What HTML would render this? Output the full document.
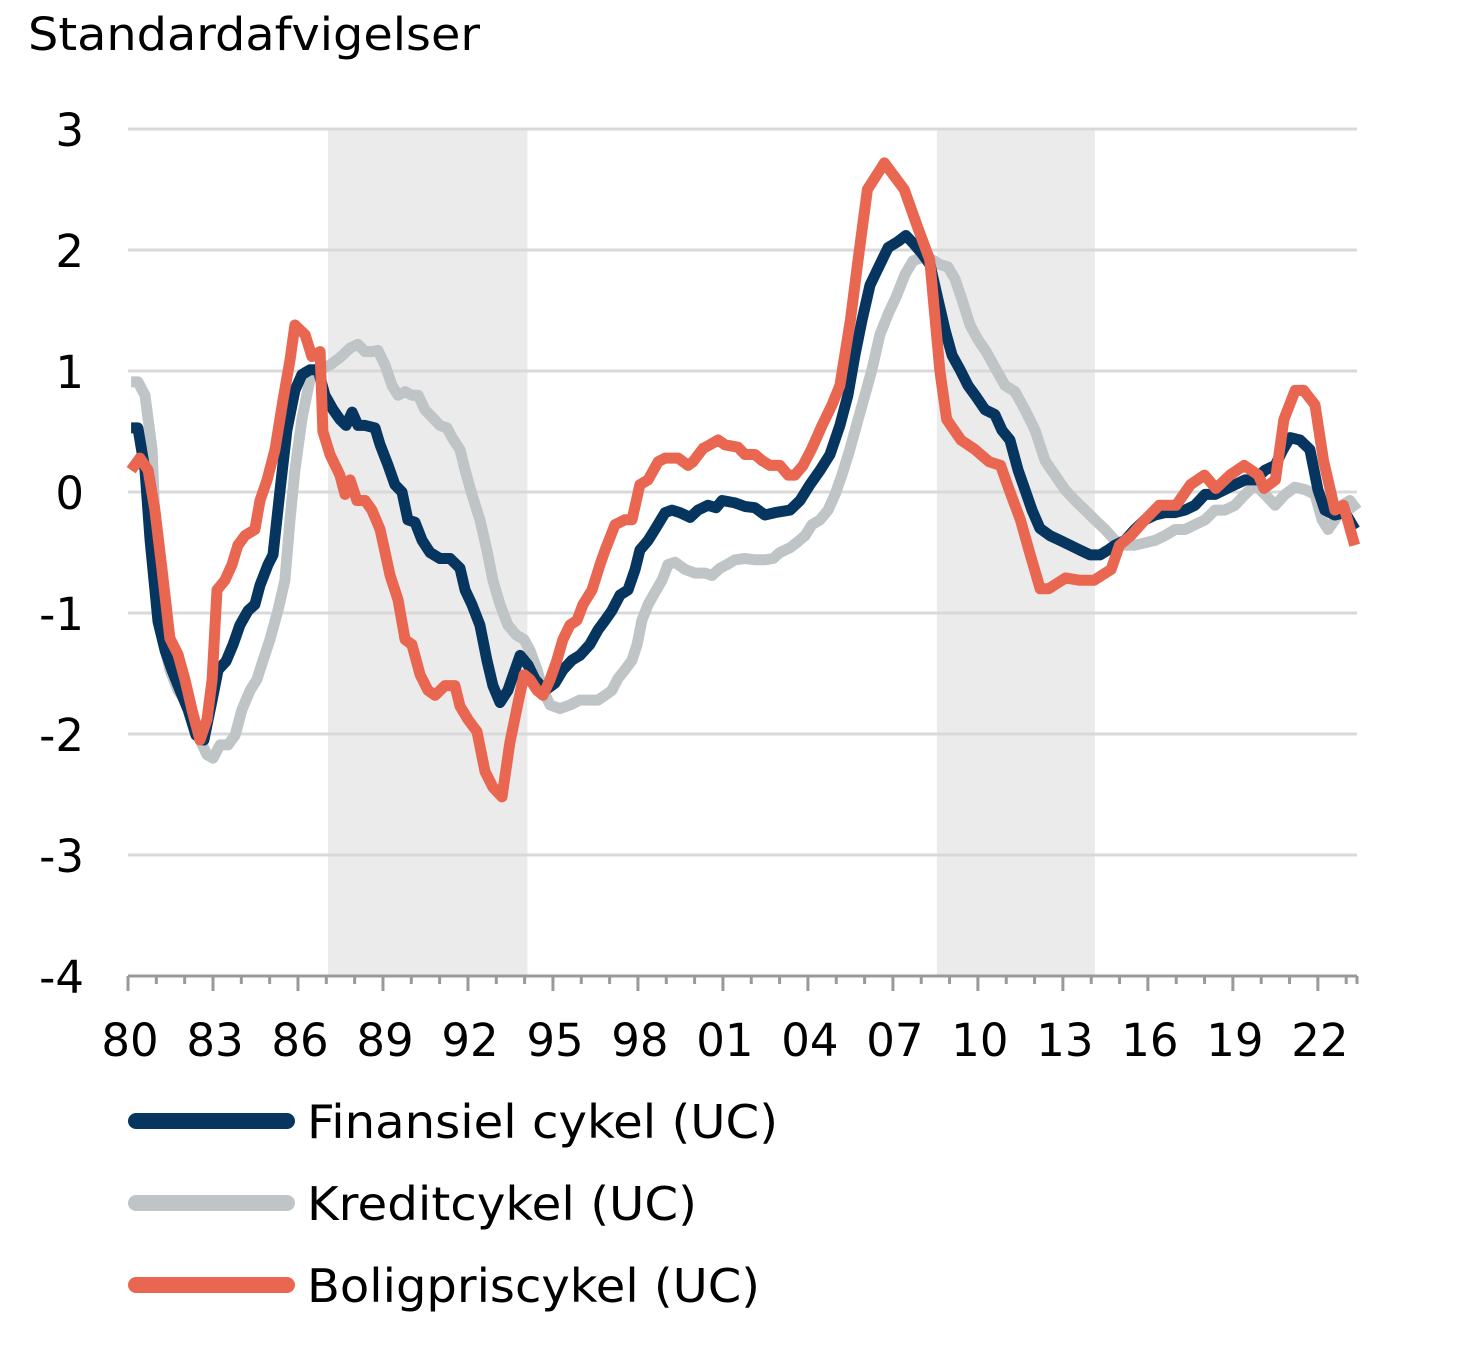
<!DOCTYPE html>
<html><head><meta charset="utf-8"><style>
html,body{margin:0;padding:0;background:#fff;}
svg{display:block;font-family:"DejaVu Sans","Liberation Sans",sans-serif;}
</style></head><body>
<svg id="chart" width="1477" height="1356" viewBox="0 0 1477 1356" xmlns="http://www.w3.org/2000/svg">
<text x="28" y="50" font-size="45" fill="#000" textLength="452" lengthAdjust="spacingAndGlyphs">Standardafvigelser</text>
<g id="shade"></g>
<g id="grid"></g>
<g id="xaxis"></g>
<g id="series"></g>
<g>
<g>
<line x1="136" y1="1121" x2="287" y2="1121" stroke="#06365f" stroke-width="16" stroke-linecap="round"/>
<text x="307" y="1138" font-size="46" fill="#000" textLength="471" lengthAdjust="spacingAndGlyphs">Finansiel cykel (UC)</text></g>
<g>
<line x1="136" y1="1203" x2="287" y2="1203" stroke="#bfc5c7" stroke-width="16" stroke-linecap="round"/>
<text x="307" y="1220" font-size="46" fill="#000" textLength="390" lengthAdjust="spacingAndGlyphs">Kreditcykel (UC)</text></g>
<g>
<line x1="136" y1="1285" x2="287" y2="1285" stroke="#e96651" stroke-width="16" stroke-linecap="round"/>
<text x="307" y="1302" font-size="46" fill="#000" textLength="453" lengthAdjust="spacingAndGlyphs">Boligpriscykel (UC)</text></g>
</g>
</svg>
<script>
// years since 1980
const yTicks=[3,2,1,0,-1,-2,-3,-4];
const xTickLabels=["80","83","86","89","92","95","98","01","04","07","10","13","16","19","22"];
const shadeStart=[7.06,28.55];
const shadeEnd=[14.1,34.13];
const finT=[0.11,0.35,0.60,0.78,1.06,1.31,1.55,1.84,2.12,2.40,2.68,2.97,3.18,3.46,3.71,3.95,4.24,4.48,4.66,4.94,5.12,5.37,5.61,5.89,6.14,6.42,6.71,6.95,7.24,7.48,7.70,7.91,8.12,8.37,8.72,8.90,9.18,9.42,9.67,9.88,10.13,10.38,10.66,11.01,11.37,11.72,11.90,12.14,12.42,12.67,12.88,13.13,13.41,13.66,13.84,14.12,14.37,14.72,15.07,15.35,15.67,15.95,16.30,16.59,16.84,17.08,17.37,17.65,17.90,18.07,18.36,18.60,18.96,19.20,19.48,19.84,20.12,20.47,20.76,20.97,21.43,21.78,22.13,22.48,22.84,23.37,23.72,24.07,24.43,24.78,25.13,25.41,25.66,25.91,26.19,26.54,26.83,27.18,27.46,27.74,28.03,28.31,28.59,28.84,29.09,29.37,29.65,29.90,30.25,30.60,30.85,31.13,31.42,31.66,31.91,32.19,32.54,32.90,33.25,33.60,33.96,34.31,34.59,34.84,35.19,35.54,35.90,36.25,36.60,36.96,37.31,37.66,38.02,38.37,38.72,39.07,39.43,39.78,40.13,40.49,40.77,41.02,41.37,41.72,42.00,42.25,42.60,42.96,43.31];
const finV=[0.53,0.53,0.18,-0.40,-1.07,-1.31,-1.47,-1.64,-1.80,-2.01,-2.05,-1.72,-1.47,-1.40,-1.26,-1.10,-0.98,-0.93,-0.77,-0.60,-0.52,0.02,0.51,0.84,0.97,1.01,1.01,0.80,0.68,0.60,0.55,0.66,0.55,0.55,0.53,0.39,0.22,0.06,0.00,-0.23,-0.25,-0.40,-0.50,-0.55,-0.55,-0.63,-0.81,-0.93,-1.10,-1.39,-1.60,-1.74,-1.64,-1.47,-1.35,-1.43,-1.55,-1.64,-1.58,-1.47,-1.39,-1.35,-1.26,-1.14,-1.06,-0.98,-0.85,-0.81,-0.64,-0.48,-0.40,-0.31,-0.17,-0.15,-0.17,-0.21,-0.15,-0.11,-0.13,-0.07,-0.09,-0.12,-0.13,-0.19,-0.17,-0.15,-0.07,0.06,0.18,0.31,0.55,0.80,1.13,1.42,1.71,1.88,2.02,2.07,2.12,2.05,1.97,1.88,1.59,1.34,1.13,1.01,0.88,0.80,0.68,0.64,0.51,0.43,0.18,0.02,-0.15,-0.30,-0.36,-0.40,-0.44,-0.48,-0.52,-0.52,-0.48,-0.44,-0.40,-0.31,-0.23,-0.19,-0.17,-0.17,-0.15,-0.11,-0.02,-0.02,0.02,0.06,0.10,0.10,0.18,0.22,0.35,0.45,0.43,0.35,0.02,-0.15,-0.19,-0.17,-0.31];
const kreT=[0.11,0.35,0.60,0.85,1.02,1.24,1.48,1.76,2.01,2.26,2.54,2.79,3.00,3.25,3.53,3.78,4.02,4.31,4.55,4.77,5.01,5.29,5.54,5.72,5.89,6.14,6.42,6.78,7.13,7.48,7.84,8.12,8.37,8.61,8.82,9.07,9.32,9.53,9.78,10.02,10.24,10.48,10.77,11.01,11.26,11.44,11.72,11.90,12.14,12.42,12.67,12.88,13.13,13.41,13.70,13.98,14.19,14.44,14.65,14.90,15.25,15.60,15.95,16.31,16.59,16.84,17.08,17.30,17.54,17.79,17.97,18.14,18.36,18.60,18.85,19.06,19.31,19.66,20.01,20.37,20.61,20.90,21.14,21.43,21.78,22.13,22.48,22.77,23.01,23.37,23.65,23.90,24.14,24.43,24.71,24.96,25.20,25.48,25.77,26.01,26.26,26.54,26.83,27.11,27.43,27.71,28.03,28.31,28.66,28.94,29.19,29.44,29.72,30.00,30.29,30.60,30.96,31.31,31.66,32.02,32.37,32.72,33.07,33.43,33.78,34.13,34.49,34.84,35.19,35.54,35.90,36.25,36.60,36.96,37.31,37.66,38.02,38.37,38.72,39.07,39.43,39.78,40.13,40.49,40.84,41.19,41.55,41.90,42.15,42.36,42.60,42.85,43.13,43.38];
const kreV=[0.91,0.91,0.80,0.35,-0.64,-1.22,-1.47,-1.64,-1.72,-1.84,-2.05,-2.17,-2.20,-2.09,-2.09,-2.01,-1.80,-1.64,-1.55,-1.39,-1.22,-0.98,-0.73,-0.23,0.18,0.60,0.93,1.01,1.05,1.11,1.19,1.22,1.16,1.16,1.17,1.05,0.88,0.80,0.83,0.80,0.80,0.68,0.61,0.55,0.53,0.45,0.35,0.18,-0.02,-0.23,-0.48,-0.73,-0.93,-1.10,-1.18,-1.22,-1.31,-1.47,-1.64,-1.76,-1.79,-1.76,-1.72,-1.72,-1.72,-1.68,-1.64,-1.54,-1.47,-1.39,-1.26,-1.06,-0.93,-0.83,-0.73,-0.60,-0.58,-0.64,-0.67,-0.67,-0.69,-0.63,-0.60,-0.56,-0.55,-0.56,-0.56,-0.55,-0.50,-0.46,-0.41,-0.36,-0.27,-0.23,-0.15,-0.02,0.14,0.35,0.60,0.80,1.01,1.30,1.47,1.61,1.80,1.91,1.94,1.93,1.88,1.86,1.76,1.59,1.38,1.26,1.16,1.03,0.88,0.83,0.68,0.51,0.26,0.14,0.02,-0.07,-0.15,-0.23,-0.31,-0.40,-0.44,-0.44,-0.42,-0.40,-0.36,-0.31,-0.31,-0.27,-0.23,-0.15,-0.15,-0.11,-0.02,0.06,-0.02,-0.11,-0.02,0.04,0.02,-0.02,-0.23,-0.31,-0.23,-0.11,-0.07,-0.15];
const bolT=[0.11,0.42,0.71,0.95,1.20,1.48,1.76,2.01,2.26,2.54,2.79,2.97,3.14,3.42,3.67,3.88,4.13,4.48,4.66,4.91,5.19,5.47,5.72,5.89,6.25,6.49,6.78,6.88,7.13,7.48,7.66,7.84,8.08,8.37,8.61,8.90,9.25,9.53,9.78,10.02,10.31,10.59,10.84,11.19,11.54,11.72,12.00,12.32,12.60,12.88,13.20,13.48,13.77,13.98,14.19,14.44,14.65,14.90,15.14,15.35,15.60,15.85,16.06,16.38,16.66,16.84,17.19,17.54,17.79,18.07,18.36,18.71,18.96,19.42,19.77,19.94,20.30,20.54,20.83,21.07,21.53,21.78,22.13,22.38,22.66,23.01,23.30,23.54,23.83,24.14,24.50,24.85,25.13,25.50,25.77,26.10,26.70,27.40,27.90,28.30,28.66,28.90,29.40,29.90,30.40,30.80,31.10,31.50,31.80,32.20,32.50,33.10,33.60,34.10,34.70,35.00,35.40,35.90,36.40,37.00,37.50,38.00,38.40,38.90,39.40,39.90,40.10,40.50,40.80,41.20,41.50,41.90,42.20,42.60,42.90,43.30];
const bolV=[0.18,0.28,0.18,-0.15,-0.64,-1.21,-1.34,-1.55,-1.80,-2.05,-1.88,-1.55,-0.81,-0.73,-0.60,-0.44,-0.36,-0.31,-0.07,0.10,0.35,0.76,1.09,1.38,1.30,1.12,1.16,0.50,0.31,0.14,-0.02,0.10,-0.07,-0.07,-0.15,-0.31,-0.69,-0.89,-1.22,-1.26,-1.51,-1.64,-1.68,-1.60,-1.60,-1.77,-1.88,-1.98,-2.31,-2.44,-2.52,-2.07,-1.74,-1.51,-1.55,-1.64,-1.68,-1.55,-1.39,-1.22,-1.10,-1.06,-0.93,-0.81,-0.60,-0.48,-0.27,-0.23,-0.23,0.06,0.10,0.25,0.28,0.28,0.22,0.25,0.36,0.39,0.43,0.39,0.37,0.31,0.31,0.26,0.22,0.22,0.14,0.14,0.22,0.36,0.55,0.72,0.88,1.42,1.92,2.50,2.72,2.50,2.17,1.92,1.00,0.60,0.43,0.35,0.25,0.22,0.02,-0.23,-0.48,-0.80,-0.80,-0.71,-0.73,-0.73,-0.64,-0.44,-0.36,-0.23,-0.11,-0.11,0.06,0.14,0.03,0.14,0.22,0.14,0.03,0.10,0.60,0.84,0.84,0.72,0.26,-0.15,-0.11,-0.44];

const NS="http://www.w3.org/2000/svg";
const X0=128,PXY=28.33,Y0=492,PXV=121,XEND=1357;
function xs(t){return X0+t*PXY;}
function ys(v){return Y0-v*PXV;}
function mk(tag,attrs,parent){const e=document.createElementNS(NS,tag);for(const k in attrs)e.setAttribute(k,attrs[k]);parent.appendChild(e);return e;}

const shade=document.getElementById('shade');
for(let i=0;i<shadeStart.length;i++){
  const r=mk('rect',{x:xs(shadeStart[i]),y:ys(3),width:xs(shadeEnd[i])-xs(shadeStart[i]),height:ys(-4)-ys(3),fill:'#ebebeb'},shade);
  
  
}
const grid=document.getElementById('grid');
yTicks.forEach(v=>{
  if(v>-4){
    const l=mk('line',{x1:X0,x2:XEND,y1:ys(v),y2:ys(v),stroke:'#d9d9d9','stroke-width':3},grid);
    
    
  }
  const t=mk('text',{x:84,y:ys(v)+17,'font-size':45,'text-anchor':'end',fill:'#000'},grid);
  t.textContent=String(v);
  
  
});
const xa=document.getElementById('xaxis');
const axl=mk('line',{x1:X0,x2:XEND,y1:ys(-4),y2:ys(-4),stroke:'#999','stroke-width':3},xa);


for(let t=0;t<=43;t++){
  const big=t%3===0;
  const tk=mk('line',{x1:xs(t),x2:xs(t),y1:ys(-4),y2:ys(-4)+(big?15:8),stroke:'#999','stroke-width':3},xa);
  
  
}
const l2=mk('line',{x1:XEND,x2:XEND,y1:ys(-4),y2:ys(-4)+8,stroke:'#999','stroke-width':3},xa);


xTickLabels.forEach((s,i)=>{
  const t=mk('text',{x:xs(i*3)+2,y:1056,'font-size':45,'text-anchor':'middle',fill:'#000'},xa);
  t.textContent=s;
  
  
});
const ser=document.getElementById('series');
function draw(T,V,color,name){
  const d=T.map((t,i)=>(i?'L':'M')+xs(t).toFixed(1)+','+ys(V[i]).toFixed(1)).join('');
  const p=mk('path',{d:d,fill:'none',stroke:color,'stroke-width':11,'stroke-linejoin':'round','stroke-linecap':'butt'},ser);
  
  
}
draw(kreT,kreV,'#bfc5c7','line-kreditcykel');
draw(finT,finV,'#06365f','line-finansiel-cykel');
draw(bolT,bolV,'#e96651','line-boligpriscykel');
</script>
</body></html>
